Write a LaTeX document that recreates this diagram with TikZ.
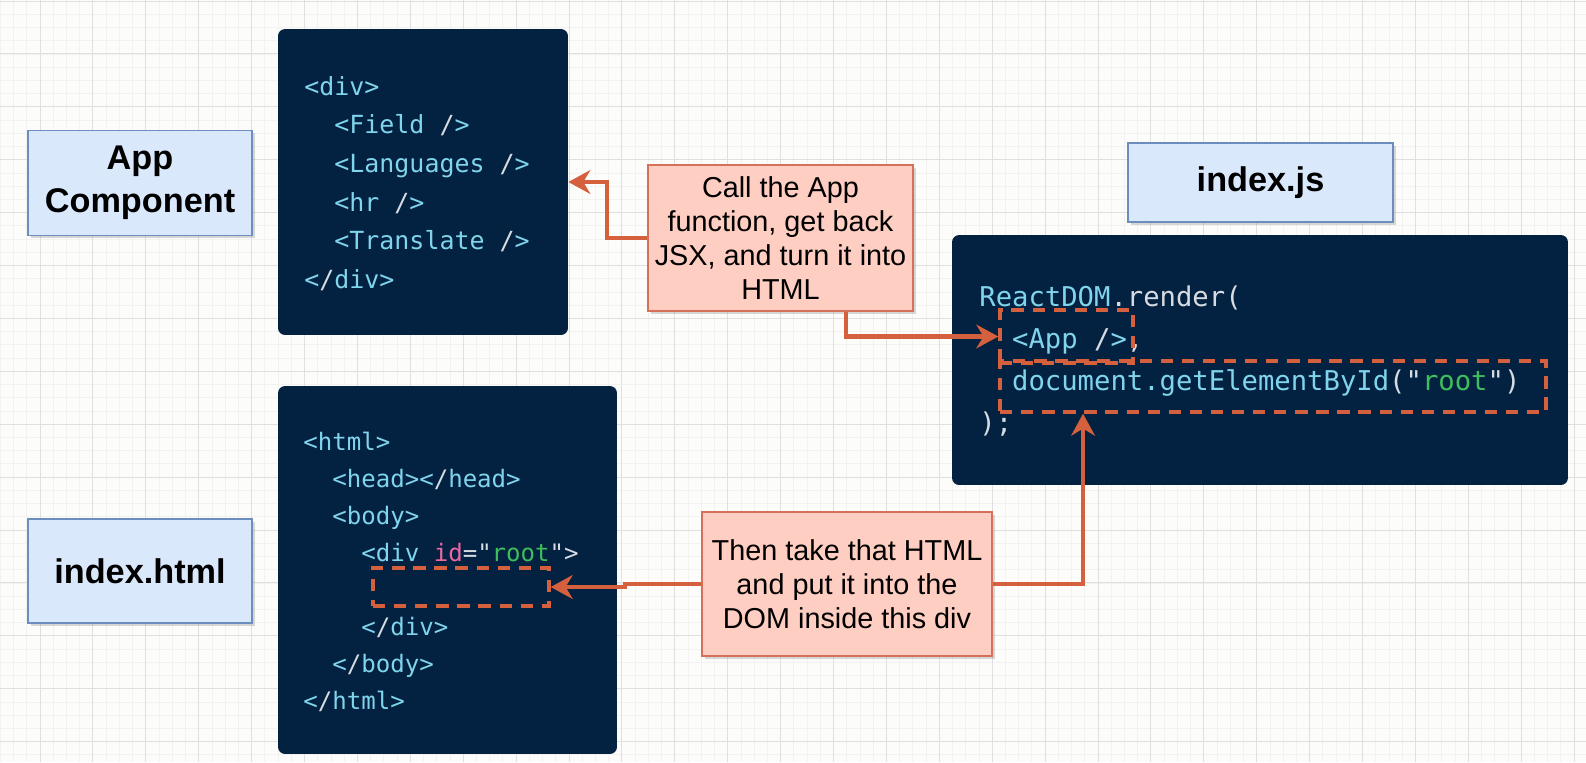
\documentclass[tikz,border=0pt]{standalone}
\usepackage{fontspec}
\setmainfont{Liberation Sans}
\setmonofont{DejaVu Sans Mono}
\usetikzlibrary{arrows.meta, shadows}
\definecolor{paper}{RGB}{252,252,250}
\definecolor{gridminor}{RGB}{242,242,240}
\definecolor{gridmajor}{RGB}{224,224,224}
\definecolor{codebg}{RGB}{3,33,64}
\definecolor{codetag}{RGB}{128,212,236}
\definecolor{codepunct}{RGB}{214,220,226}
\definecolor{codestr}{RGB}{62,190,92}
\definecolor{codeattr}{RGB}{236,104,164}
\definecolor{labelbg}{RGB}{218,232,252}
\definecolor{labelborder}{RGB}{108,142,191}
\definecolor{notebg}{RGB}{255,206,194}
\definecolor{noteborder}{RGB}{214,112,88}
\definecolor{flowcol}{RGB}{212,96,62}

\newcommand{\punct}[1]{\textcolor{codepunct}{#1}}
\newcommand{\strv}[1]{\textcolor{codestr}{#1}}
\newcommand{\attr}[1]{\textcolor{codeattr}{#1}}
\newcommand{\codeind}{\hphantom{xx}}

\begin{document}
\begin{tikzpicture}[x=0.02cm, y=-0.02cm]
        \tikzstyle{filebox} = [rectangle, draw=labelborder, fill=labelbg, line width=0.8pt, drop shadow={shadow xshift=1.5pt, shadow yshift=-1.5pt, opacity=0.3}, font=\fontsize{19.5}{24.5}\selectfont\bfseries, align=center, inner sep=0pt];
        \tikzstyle{notebox} = [rectangle, draw=noteborder, fill=notebg, line width=0.8pt, drop shadow={shadow xshift=1.5pt, shadow yshift=-1.5pt, opacity=0.3}, font=\fontsize{16.4}{19.5}\selectfont, align=center, inner sep=0pt];
        \tikzstyle{codebox} = [rectangle, fill=codebg, rounded corners=4pt, inner sep=0pt];
        \tikzstyle{codetext} = [anchor=north west, inner sep=0pt, align=left, text=codetag];
        \tikzstyle{slot} = [rectangle, draw=flowcol, line width=1.9pt, dash pattern=on 7pt off 5pt, inner sep=0pt];
        \tikzstyle{flow} = [draw=flowcol, line width=2.3pt, -{Stealth[length=12.5pt, width=13.5pt, inset=4pt]}];

        % paper with grid
        \useasboundingbox (0,0) rectangle (1586,762);
        \fill[paper] (0,0) rectangle (1586,762);
        \foreach \i in {0,...,119} \draw[gridminor, line width=0.45pt] ({0.3+13.225*\i},0) -- ++(0,762);
        \foreach \i in {0,...,57} \draw[gridminor, line width=0.45pt] (0,{1+13.225*\i}) -- ++(1586,0);
        \foreach \i in {0,...,29} \draw[gridmajor, line width=0.5pt] ({40+52.9*\i},0) -- ++(0,762);
        \foreach \i in {0,...,14} \draw[gridmajor, line width=0.5pt] (0,{1+52.9*\i}) -- ++(1586,0);

        % file labels
        \node(applabel) [filebox, minimum width=4.48cm, minimum height=2.1cm] at (140,183) {App\\Component};
        \node(htmllabel) [filebox, minimum width=4.48cm, minimum height=2.08cm] at (140,571) {index.html};
        \node(jslabel) [filebox, minimum width=5.3cm, minimum height=1.58cm] at (1260.5,182.5) {index.js};

        % code panels
        \node(appbox) [codebox, minimum width=5.8cm, minimum height=6.12cm] at (423,182) {};
        \node(htmlbox) [codebox, minimum width=6.78cm, minimum height=7.36cm] at (447.5,570) {};
        \node(jsbox) [codebox, minimum width=12.32cm, minimum height=5cm] at (1260,360) {};

        \node(appcode) [codetext, font=\ttfamily\fontsize{14.2}{21.96}\selectfont] at (304,76) {%
            <div>\\
            \codeind<Field \punct{/}>\\
            \codeind<Languages \punct{/}>\\
            \codeind<hr \punct{/}>\\
            \codeind<Translate \punct{/}>\\
            <\punct{/}div>};
        \node(htmlcode) [codetext, font=\ttfamily\fontsize{13.7}{21}\selectfont] at (303,432) {%
            <html>\\
            \codeind<head><\punct{/}head>\\
            \codeind<body>\\
            \codeind\codeind<div \attr{id}\punct{="}\strv{root}\punct{">}\\
            \mbox{}\\
            \codeind\codeind<\punct{/}div>\\
            \codeind<\punct{/}body>\\
            <\punct{/}html>};
        \node(jscode) [codetext, font=\ttfamily\fontsize{15.5}{23.9}\selectfont] at (979,285) {%
            ReactDOM\punct{.render(}\\
            \codeind<App \punct{/}>\punct{,}\\
            \codeind document.getElementById\punct{("}\strv{root}\punct{")}\\
            \punct{);}};

        % highlighted slots
        \node(appslot) [slot, minimum width=2.66cm, minimum height=1.06cm] at (1066.5,336.5) {};
        \node(rootslot) [slot, minimum width=10.92cm, minimum height=1.02cm] at (1273,386.5) {};
        \node(divslot) [slot, minimum width=3.52cm, minimum height=0.76cm] at (461,587) {};

        % notes
        \node(callnote) [notebox, minimum width=5.3cm, minimum height=2.92cm] at (780.5,238) {Call the App\\function, get back\\JSX, and turn it into\\HTML};
        \node(putnote) [notebox, minimum width=5.8cm, minimum height=2.88cm] at (847,584) {Then take that HTML\\and put it into the\\DOM inside this div};

        \draw[flow] (callnote.west) -- ++(-40,0) |- (appbox.east);
        \draw[flow] ([xshift=1.31cm]callnote.south) |- (appslot.west);
        \draw[flow] (putnote.east) -| ([xshift=-3.8cm]rootslot.south);
        \draw[flow] (putnote.west) -- ++(-76,0) |- (divslot.east);

    \end{tikzpicture}
\end{document}
